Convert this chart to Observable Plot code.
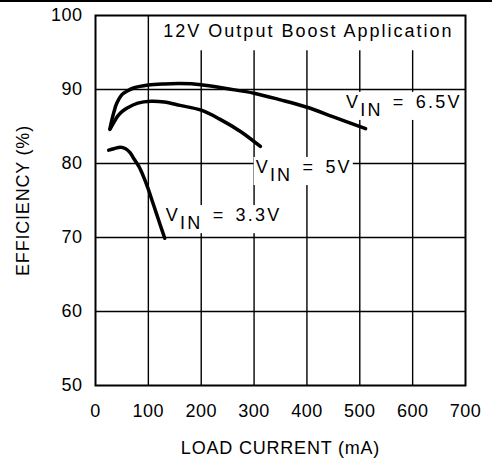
<!DOCTYPE html>
<html><head><meta charset="utf-8">
<script src="https://cdn.jsdelivr.net/npm/d3@7"></script>
<script src="https://cdn.jsdelivr.net/npm/@observablehq/plot@0.6"></script>
<style>
body{margin:0;background:#fff;}
#topline{position:absolute;left:0;top:0;width:492px;height:2px;background:#000;}
#chart{position:absolute;left:0;top:0;}
svg text{font-family:"Liberation Sans",Arial,sans-serif;}
text.vlab{letter-spacing:2.2px;word-spacing:3px;white-space:pre;}
text.ttl{letter-spacing:2px;}
text.tick{letter-spacing:0.5px;}
text.alab{letter-spacing:0.8px;}
</style></head><body><div id="chart"></div><div id="topline"></div>
<script>
const xTicks = [0, 100, 200, 300, 400, 500, 600, 700];
const yTicks = [50, 60, 70, 80, 90, 100];
const xGrid = [100, 200, 300, 400, 500, 600];
const yGrid = [60, 70, 80, 90];

const x65 = [27, 31, 35, 40, 50, 60, 72, 100, 130, 160, 200, 250, 300, 350, 400, 450, 511];
const y65 = [84.6, 85.9, 87.0, 88.1, 89.3, 89.8, 90.2, 90.6, 90.75, 90.8, 90.65, 90.1, 89.5, 88.6, 87.6, 86.3, 84.7];
const x5 = [28, 35, 42, 50, 60, 80, 105, 130, 160, 200, 235, 275, 312];
const y5 = [84.7, 85.6, 86.4, 87.0, 87.5, 88.15, 88.4, 88.3, 87.85, 87.2, 86.0, 84.3, 82.3];
const x33 = [25, 35, 47, 57, 65, 73, 82, 91, 100, 107, 115, 122, 131];
const y33 = [81.8, 82.0, 82.2, 82.0, 81.5, 80.6, 79.6, 78.2, 76.5, 75.0, 73.3, 71.8, 69.9];

const labelText = ["VIN = 6.5V", "VIN = 5V", "VIN = 3.3V"];
const labelX = [474, 303, 133];
const labelY = [88.3, 79.5, 73.0];
const title = "12V Output Boost Application";
const xLabel = "LOAD CURRENT (mA)";
const yLabel = "EFFICIENCY (%)";

const series = [
  ...x65.map((x, i) => ({s: "6.5", x, y: y65[i]})),
  ...x5.map((x, i) => ({s: "5", x, y: y5[i]})),
  ...x33.map((x, i) => ({s: "3.3", x, y: y33[i]}))
];
const labels = labelText.map((t, i) => ({text: t, x: labelX[i], y: labelY[i]}));

const gridStyle = {stroke: "black", strokeOpacity: 1, strokeWidth: 1.4};
const plot = Plot.plot({
  width: 492, height: 466,
  marginLeft: 95, marginRight: 27, marginTop: 15, marginBottom: 81,
  style: {fontFamily: "Liberation Sans", fontSize: "18px", color: "black", background: "white"},
  x: {domain: [0, 700]},
  y: {domain: [50, 100]},
  marks: [
    Plot.gridX(xGrid, gridStyle),
    Plot.gridY(yGrid, gridStyle),
    Plot.text(labels, {x: "x", y: "y", text: "text", textAnchor: "start", fontSize: 18, fill: "black"}),
    Plot.text([title], {frameAnchor: "top-right", dx: -12, dy: 9, lineAnchor: "top", fontSize: 18, fill: "black"}),
    Plot.line(series, {x: "x", y: "y", z: "s", stroke: "black", strokeWidth: 3.5, curve: "catmull-rom", strokeLinecap: "round"}),
    Plot.frame({stroke: "black", strokeWidth: 2}),
    Plot.axisX({ticks: xTicks, tickSize: 0, tickPadding: 19, fontSize: 18, label: xLabel, labelAnchor: "center", labelArrow: "none", labelOffset: 68}),
    Plot.axisY({ticks: yTicks, tickSize: 0, tickPadding: 13, fontSize: 18, label: yLabel, labelAnchor: "center", labelArrow: "none", labelOffset: 79})
  ]
});
document.getElementById("chart").append(plot);

const NS = "http://www.w3.org/2000/svg";
const tickStrings = new Set([...xTicks, ...yTicks].map(String));
const vlabs = [], ttls = [];
plot.querySelectorAll("text").forEach(t => {
  const s = t.textContent;
  if (labelText.includes(s)) { t.classList.add("vlab"); vlabs.push(t); }
  else if (s === title) { t.classList.add("ttl"); ttls.push(t); }
  else if (s === xLabel || s === yLabel) t.classList.add("alab");
  else if (tickStrings.has(s)) t.classList.add("tick");
});
vlabs.forEach(t => {
  const s = t.textContent;
  t.textContent = "";
  const a = document.createElementNS(NS, "tspan"); a.textContent = s.slice(0, 1);
  const b = document.createElementNS(NS, "tspan"); b.textContent = s.slice(1, 3); b.setAttribute("dy", "0.45em");
  const c = document.createElementNS(NS, "tspan"); c.textContent = s.slice(3); c.setAttribute("dy", "-0.45em");
  t.append(a, b, c);
});
function backRect(list, l, r, tp, bt) {
  list.forEach(t => {
    const bb = t.getBBox();
    const rc = document.createElementNS(NS, "rect");
    rc.setAttribute("x", bb.x - l);
    rc.setAttribute("y", bb.y - tp);
    rc.setAttribute("width", bb.width + l + r);
    rc.setAttribute("height", bb.height + tp + bt);
    rc.setAttribute("fill", "white");
    if (t.getAttribute("transform")) rc.setAttribute("transform", t.getAttribute("transform"));
    t.parentNode.insertBefore(rc, t);
  });
}
backRect(vlabs, 2, 1, 0, 0);
backRect(ttls, 8, 10, 6, 9);
</script></body></html>
